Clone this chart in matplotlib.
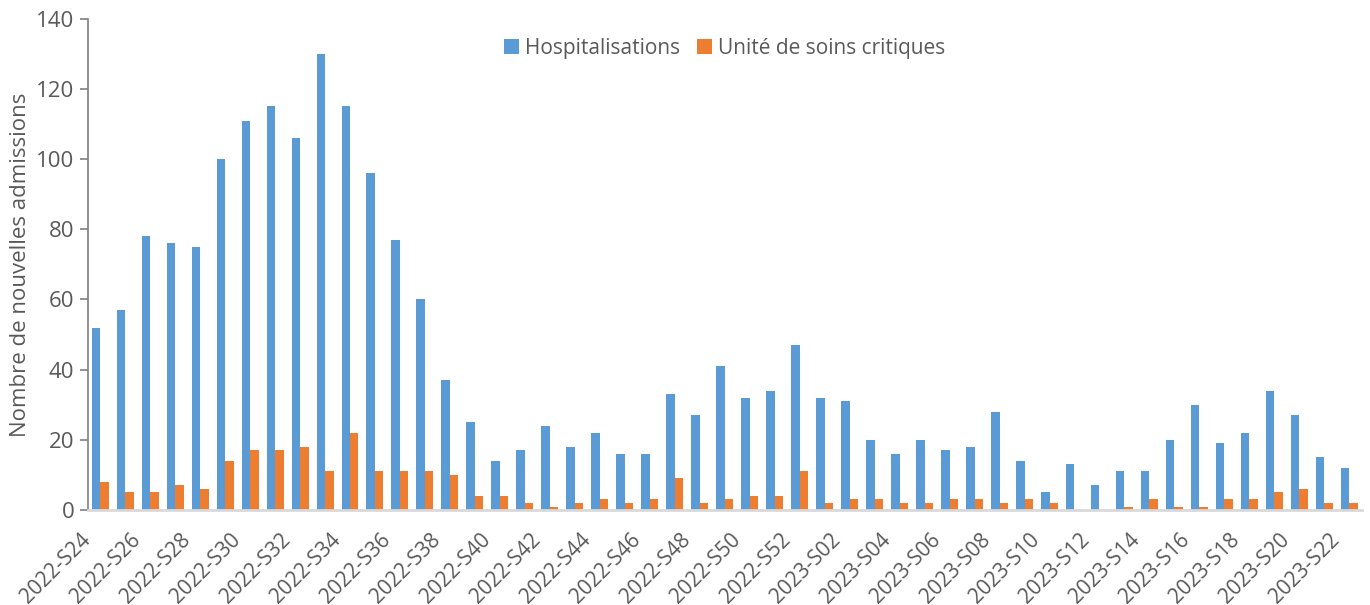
import matplotlib.pyplot as plt
import matplotlib.transforms as mtransforms
import numpy as np

weeks = ["2022-S%02d" % w for w in range(24, 53)] + ["2023-S%02d" % w for w in range(1, 23)]

hospitalisations = [52, 57, 78, 76, 75, 100, 111, 115, 106, 130, 115, 96, 77, 60, 37,
                    25, 14, 17, 24, 18, 22, 16, 16, 33, 27, 41, 32, 34, 47,
                    32, 31, 20, 16, 20, 17, 18, 28, 14, 5, 13, 7, 11, 11, 20, 30,
                    19, 22, 34, 27, 15, 12]
soins_critiques = [8, 5, 5, 7, 6, 14, 17, 17, 18, 11, 22, 11, 11, 11, 10,
                   4, 4, 2, 1, 2, 3, 2, 3, 9, 2, 3, 4, 4, 11,
                   2, 3, 3, 2, 2, 3, 3, 2, 3, 2, 0, 0, 1, 3, 1, 1,
                   3, 3, 5, 6, 2, 2]

plt.rcParams['font.family'] = ['Open Sans', 'DejaVu Sans']
grey = '#595959'

fig = plt.figure(figsize=(13.7, 6.05), dpi=100)
ax = fig.add_axes([0.064, 0.157, 0.93, 0.812])

x = np.arange(len(weeks))
w = 0.34
ax.bar(x - w / 2, hospitalisations, w, color='#5B9BD5', label='Hospitalisations')
ax.bar(x + w / 2, soins_critiques, w, color='#ED7D31', label='Unité de soins critiques')

ax.set_xlim(-0.5, len(weeks) - 0.5)
ax.set_ylim(0, 140)
ax.set_yticks(range(0, 141, 20))
ax.set_xticks(x[::2])
ax.set_xticklabels(weeks[::2], rotation=45, ha='right', rotation_mode='anchor')
ax.tick_params(axis='x', length=0, pad=10, labelsize=15, colors=grey)
ax.tick_params(axis='y', length=6, width=1.2, labelsize=16, colors=grey)
ax.tick_params(axis='y', color='#7f7f7f')

# shift the week labels a little to the left, like the original
offset = mtransforms.ScaledTranslation(-20 / 100, -5 / 100, fig.dpi_scale_trans)
for lbl in ax.get_xticklabels():
    lbl.set_transform(lbl.get_transform() + offset)

for s in ['top', 'right']:
    ax.spines[s].set_visible(False)
ax.spines['left'].set_color('#7f7f7f')
ax.spines['left'].set_linewidth(1.2)
ax.spines['bottom'].set_color('#d9d9d9')
ax.spines['bottom'].set_linewidth(2)

ax.set_ylabel('Nombre de nouvelles admissions', fontsize=16, color=grey, labelpad=4)

ax.legend(loc='upper center', bbox_to_anchor=(0.5, 1.0), ncol=2, frameon=False,
          fontsize=15, labelcolor=grey, handlelength=0.7, handleheight=0.7,
          columnspacing=0.8, handletextpad=0.3)

plt.savefig('out.png')
